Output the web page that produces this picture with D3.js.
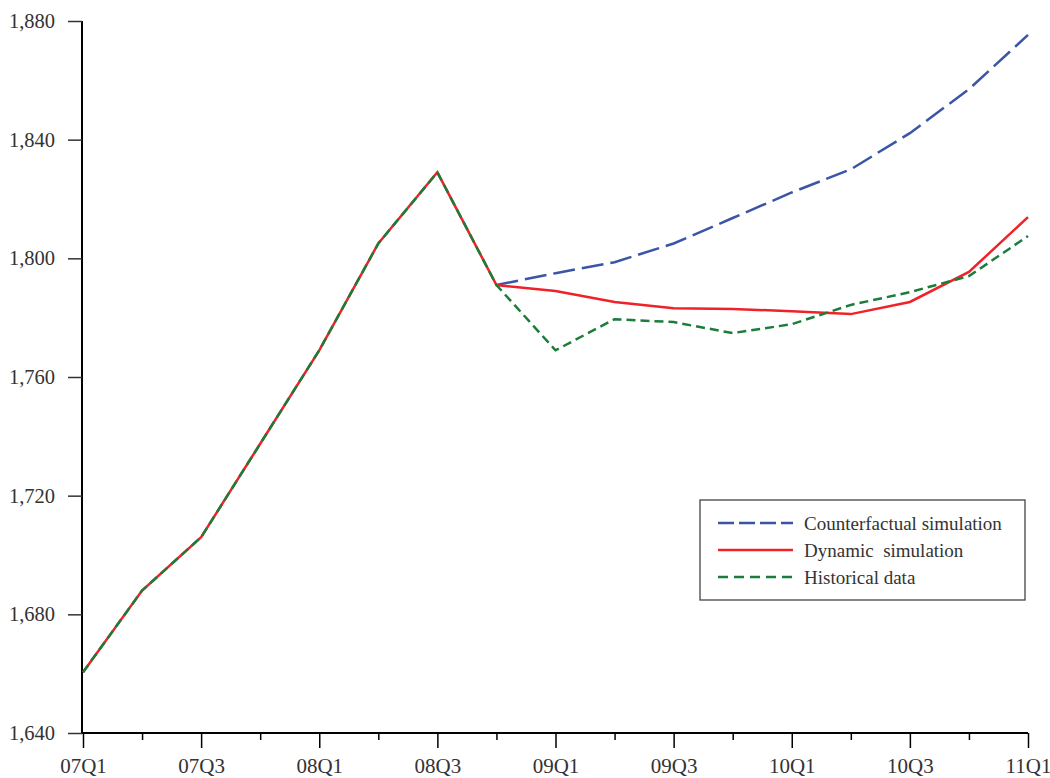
<!DOCTYPE html>
<html>
<head>
<meta charset="utf-8">
<script src="https://cdn.jsdelivr.net/npm/d3@7"></script>
<style>
  html, body { margin: 0; padding: 0; background: #fff; }
  svg { display: block; }
  text { font-family: "Liberation Serif", "DejaVu Serif", serif; }
</style>
</head>
<body>
<svg id="chart" width="1050" height="778"></svg>
<script>
const quarters = ["07Q1","07Q2","07Q3","07Q4","08Q1","08Q2","08Q3","08Q4",
                  "09Q1","09Q2","09Q3","09Q4","10Q1","10Q2","10Q3","10Q4","11Q1"];
const historical = [1660.5, 1688, 1706, 1737.5, 1769, 1805, 1829, 1791,
                    1769, 1779.5, 1778.5, 1774.8, 1777.8, 1784.3, 1788.6, 1794, 1807.5];
const dynamic = [1660.5, 1688, 1706, 1737.5, 1769, 1805, 1829, 1791,
                 1789, 1785.3, 1783.2, 1782.9, 1782.2, 1781.2, 1785.3, 1795.4, 1813.9];
const counterfactual = [null, null, null, null, null, null, null, 1791,
                        1795, 1798.7, 1805, 1813.6, 1822.2, 1830, 1842.2, 1857, 1875.3];
const yTicks = [1640, 1680, 1720, 1760, 1800, 1840, 1880];
const seriesNames = ["Counterfactual simulation", "Dynamic  simulation", "Historical data"];

const svg = d3.select("#chart");
const x = d3.scaleLinear().domain([0, quarters.length - 1]).range([83, 1028]);
const y = d3.scaleLinear().domain([1640, 1880]).range([733, 21]);

// Y axis
const yAxis = svg.append("g")
  .attr("transform", "translate(82,0)")
  .call(d3.axisLeft(y).tickValues(yTicks).tickFormat(d3.format(",")).tickSize(14).tickPadding(13));
yAxis.select(".domain").attr("stroke", "#000").attr("stroke-width", 2).attr("d", "M0,21V733");
yAxis.selectAll(".tick line").attr("stroke", "#333").attr("stroke-width", 1.5);
yAxis.selectAll(".tick text").attr("font-size", 20.5).attr("fill", "#333")
  .attr("font-family", "Liberation Serif, serif");

// X axis
const xAxis = svg.append("g")
  .attr("transform", "translate(0,733)")
  .call(d3.axisBottom(x).tickValues(d3.range(quarters.length))
    .tickFormat(i => i % 2 === 0 ? quarters[i] : "").tickSize(15).tickPadding(9));
xAxis.select(".domain").attr("stroke", "#000").attr("stroke-width", 2).attr("d", "M82,0H1028");
xAxis.selectAll(".tick line").attr("stroke", "#000").attr("stroke-width", 1.5)
  .attr("y2", d => d % 2 === 0 ? 15 : 7);
xAxis.selectAll(".tick text").attr("font-size", 21).attr("fill", "#333")
  .attr("font-family", "Liberation Serif, serif").attr("dy", "0.75em");

const line = d3.line()
  .defined(d => d != null)
  .x((d, i) => x(i))
  .y(d => y(d));

const colors = ["#3a55a6", "#ee2228", "#1b7d3b"];
const dashes = ["22,7", null, "9,5"];

svg.append("path").datum(counterfactual)
  .attr("d", line).attr("fill", "none").attr("stroke", colors[0])
  .attr("stroke-width", 2.5).attr("stroke-dasharray", dashes[0]);
svg.append("path").datum(dynamic)
  .attr("d", line).attr("fill", "none").attr("stroke", colors[1])
  .attr("stroke-width", 2.5);
svg.append("path").datum(historical)
  .attr("d", line).attr("fill", "none").attr("stroke", colors[2])
  .attr("stroke-width", 2.5).attr("stroke-dasharray", dashes[2]);

// Legend
const lg = svg.append("g");
lg.append("rect").attr("x", 700).attr("y", 500).attr("width", 325).attr("height", 100)
  .attr("fill", "#fff").attr("stroke", "#444").attr("stroke-width", 1.3);
const legendDash = ["16,5", null, "10,6"];
seriesNames.forEach((name, i) => {
  const yy = 523 + i * 27;
  lg.append("line").attr("x1", 718).attr("x2", 793).attr("y1", yy).attr("y2", yy)
    .attr("stroke", colors[i]).attr("stroke-width", 2.5)
    .attr("stroke-dasharray", legendDash[i]);
  lg.append("text").attr("x", 804).attr("y", yy).attr("dy", "0.35em")
    .attr("font-size", 19).attr("fill", "#333").style("white-space", "pre").text(name);
});
</script>
</body>
</html>
